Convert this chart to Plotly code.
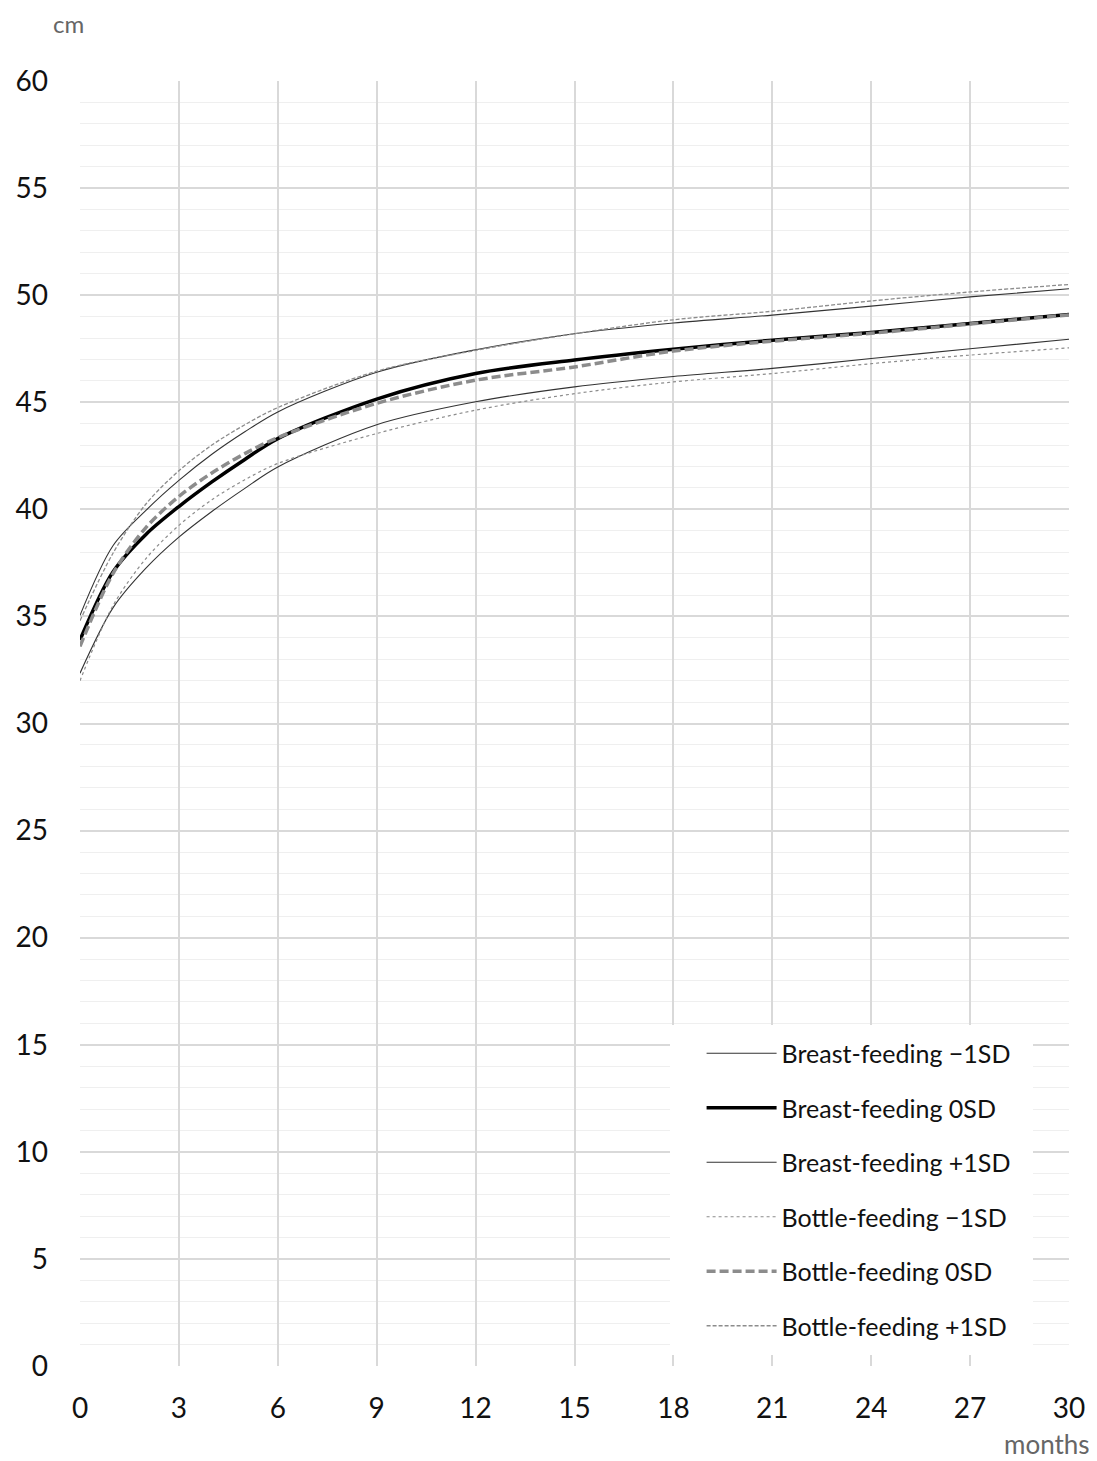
import plotly.graph_objects as go

months = [0, 1, 2, 3, 4, 5, 6, 9, 12, 15, 18, 21, 24, 27, 30]

breast_m1 = [32.35, 35.4, 37.25, 38.7, 39.9, 40.98, 41.98, 43.95, 45.02, 45.72, 46.2, 46.58, 47.04, 47.5, 47.94]
breast_0 = [33.9, 37.08, 38.83, 40.13, 41.28, 42.33, 43.3, 45.15, 46.34, 46.97, 47.47, 47.9, 48.26, 48.68, 49.1]
breast_p1 = [35.05, 38.3, 39.95, 41.35, 42.57, 43.62, 44.55, 46.4, 47.45, 48.2, 48.7, 49.07, 49.49, 49.92, 50.3]
bottle_m1 = [32.0, 35.5, 37.7, 39.25, 40.45, 41.38, 42.14, 43.54, 44.63, 45.4, 45.95, 46.34, 46.8, 47.2, 47.54]
bottle_0 = [33.6, 37.0, 39.15, 40.6, 41.7, 42.6, 43.35, 44.95, 46.03, 46.65, 47.39, 47.85, 48.22, 48.65, 49.08]
bottle_p1 = [34.8, 37.95, 40.25, 41.8, 43.0, 43.95, 44.75, 46.45, 47.42, 48.2, 48.85, 49.25, 49.73, 50.15, 50.5]

series_names = ["Breast-feeding \u22121SD", "Breast-feeding 0SD", "Breast-feeding +1SD",
                "Bottle-feeding \u22121SD", "Bottle-feeding 0SD", "Bottle-feeding +1SD"]
series_values = [breast_m1, breast_0, breast_p1, bottle_m1, bottle_0, bottle_p1]
styles = [
    dict(color="#333333", width=1.1, dash="solid"),
    dict(color="#000000", width=3.5, dash="solid"),
    dict(color="#333333", width=1.1, dash="solid"),
    dict(color="#8c8c8c", width=1.2, dash="3px,3px"),
    dict(color="#8c8c8c", width=3.5, dash="9px,4px"),
    dict(color="#8c8c8c", width=1.3, dash="4px,2px"),
]
x_ticks = list(range(0, 31, 3))
y_ticks = list(range(0, 61, 5))

fig = go.Figure()
for i, (name, vals, st) in enumerate(zip(series_names, series_values, styles)):
    fig.add_trace(go.Scatter(
        x=months, y=vals, mode="lines", name=name,
        line=dict(color=st["color"], width=st["width"], dash=st["dash"], shape="spline", smoothing=0.9),
        legendgroup=f"g{i}",
    ))

FONT = "Lato, 'Noto Sans', sans-serif"
# page body has an 8px margin: figure is sized so that it fits the window
W, H = 1089, 1453
L, T, R, B = 72, 73, 28, 95
PW, PH = 989, 1285
fig.update_layout(
    width=W, height=H,
    margin=dict(l=L, r=R, t=T, b=B, autoexpand=False),
    paper_bgcolor="white", plot_bgcolor="white",
    font=dict(family=FONT, color="#111111", size=24),
    showlegend=True,
    legend=dict(
        x=0.6285, y=0.0136, xanchor="left", yanchor="bottom",
        bgcolor="rgba(255,255,255,0)", borderwidth=0,
        font=dict(size=25, color="#111111", family=FONT),
        itemwidth=70, tracegroupgap=19, traceorder="grouped",
    ),
    shapes=[
        dict(type="rect", xref="paper", yref="paper", layer="above",
             x0=(670 - 80) / PW, x1=(1033 - 80) / PW,
             y0=(1366 - 1355) / PH, y1=(1366 - 1025) / PH,
             fillcolor="white", line=dict(width=0)),
    ],
    xaxis=dict(
        range=[0, 30], tickvals=x_ticks, ticktext=[str(v) for v in x_ticks],
        showgrid=True, gridcolor="#d9d9d9", gridwidth=1.5, automargin=False,
        zeroline=False, showline=False, ticks="", ticklabelstandoff=23,
        tickfont=dict(size=28, color="#111111"),
    ),
    yaxis=dict(
        range=[0, 60], tickvals=y_ticks, ticktext=[str(v) for v in y_ticks],
        showgrid=True, gridcolor="#d9d9d9", gridwidth=1.5, automargin=False,
        minor=dict(dtick=1, showgrid=True, gridcolor="#efefef", gridwidth=1.2),
        zeroline=False, showline=False, ticks="", ticklabelstandoff=31,
        tickfont=dict(size=28, color="#111111"),
    ),
    annotations=[
        dict(text="cm", xref="paper", yref="paper", x=(68 - 80) / PW, y=(81 - 24) / PH + 1,
             xanchor="center", yanchor="middle",
             showarrow=False, font=dict(size=24, color="#666666", family=FONT)),
        dict(text="months", xref="paper", yref="paper", x=(1092 - 80) / PW, y=-(1444 - 1366) / PH,
             xanchor="right", yanchor="middle",
             showarrow=False, font=dict(size=26, color="#666666", family=FONT)),
    ],
)

fig.write_html("out.html")
